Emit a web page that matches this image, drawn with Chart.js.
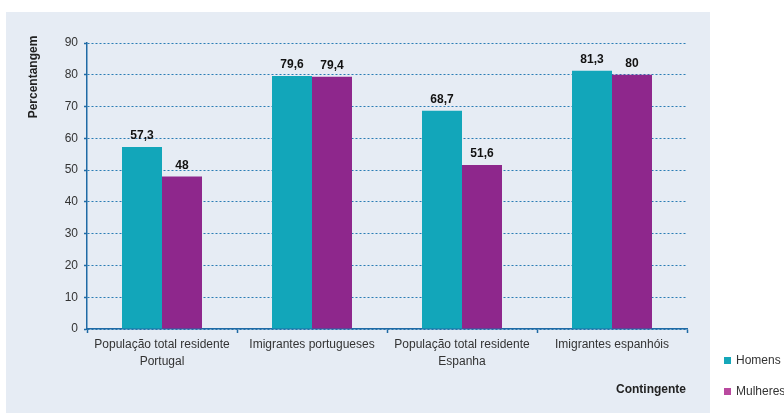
<!DOCTYPE html>
<html>
<head>
<meta charset="utf-8">
<script src="https://cdn.jsdelivr.net/npm/chart.js@4/dist/chart.umd.min.js"></script>
<style>
    html, body { margin: 0; padding: 0; background: #fff; }
    #wrap { width: 784px; height: 413px; }
</style>
</head>
<body>
<div id="wrap"><canvas id="chart" width="784" height="413"></canvas></div>
<script>
const categories = [
    ['População total residente', 'Portugal'],
    'Imigrantes portugueses',
    ['População total residente', 'Espanha'],
    'Imigrantes espanhóis'
];
const homens = [57.3, 79.6, 68.7, 81.3];
const mulheres = [48, 79.4, 51.6, 80];
const seriesNames = ['Homens', 'Mulheres'];
const barColors = ['#12a6ba', '#8e278c'];
const legendColors = ['#15a7b9', '#b9499f'];

const FONT = '"Liberation Sans", Arial, sans-serif';

function fmt(v) {
    return String(v).replace('.', ',');
}

// background panel, value labels, axis titles and the legend
const decorations = {
    id: 'decorations',
    beforeDraw(chart) {
        const ctx = chart.ctx;
        ctx.save();
        ctx.fillStyle = '#e6ecf4';
        ctx.fillRect(6, 12, 704, 401);
        ctx.restore();
    },
    afterDatasetsDraw(chart) {
        const ctx = chart.ctx;
        ctx.save();
        ctx.font = 'bold 12px ' + FONT;
        ctx.fillStyle = '#111';
        ctx.textAlign = 'center';
        ctx.textBaseline = 'bottom';
        chart.data.datasets.forEach((ds, i) => {
            chart.getDatasetMeta(i).data.forEach((bar, j) => {
                ctx.fillText(fmt(ds.data[j]), bar.x, bar.y - 5);
            });
        });
        ctx.restore();
    },
    afterDraw(chart) {
        const ctx = chart.ctx;
        ctx.save();
        ctx.font = 'bold 12px ' + FONT;
        ctx.fillStyle = '#222';
        ctx.textBaseline = 'middle';

        ctx.save();
        ctx.translate(34, 77);
        ctx.rotate(-Math.PI / 2);
        ctx.textAlign = 'center';
        ctx.fillText('Percentangem', 0, 0);
        ctx.restore();

        ctx.textAlign = 'right';
        ctx.fillText('Contingente', 686, 390);

        ctx.font = '12px ' + FONT;
        ctx.textAlign = 'left';
        const rows = [361, 392];
        seriesNames.forEach((name, i) => {
            ctx.fillStyle = legendColors[i];
            ctx.fillRect(724, rows[i] - 4, 7, 7);
            ctx.fillStyle = '#333';
            ctx.fillText(name, 736, rows[i]);
        });
        ctx.restore();
    }
};

new Chart(document.getElementById('chart'), {
    type: 'bar',
    data: {
        labels: categories,
        datasets: [
            { label: seriesNames[0], data: homens, backgroundColor: barColors[0] },
            { label: seriesNames[1], data: mulheres, backgroundColor: barColors[1] }
        ]
    },
    options: {
        responsive: false,
        animation: false,
        devicePixelRatio: 1,
        categoryPercentage: 0.5333,
        barPercentage: 1.0,
        layout: { padding: { left: 47, top: 43, right: 97, bottom: 24 } },
        plugins: {
            legend: { display: false },
            tooltip: { enabled: false }
        },
        scales: {
            x: {
                afterFit(scale) { scale.height = 60; },
                grid: {
                    drawOnChartArea: false,
                    drawTicks: true,
                    tickLength: 4,
                    tickColor: '#1f6aa5',
                    tickWidth: 1.5
                },
                border: { color: '#1f6aa5', width: 1.5 },
                ticks: {
                    color: '#333',
                    padding: 3,
                    maxRotation: 0,
                    font: { family: FONT, size: 12, lineHeight: 1.4 }
                }
            },
            y: {
                min: 0,
                max: 90,
                afterFit(scale) { scale.width = 40; },
                grid: {
                    color: '#2a7db5',
                    lineWidth: 1,
                    tickLength: 3,
                    tickColor: '#1f6aa5',
                    tickWidth: 1.5
                },
                border: { color: '#1f6aa5', width: 1.5, dash: [2, 2] },
                ticks: {
                    stepSize: 10,
                    color: '#333',
                    padding: 6,
                    font: { family: FONT, size: 12 }
                }
            }
        }
    },
    plugins: [decorations]
});
</script>
</body>
</html>
